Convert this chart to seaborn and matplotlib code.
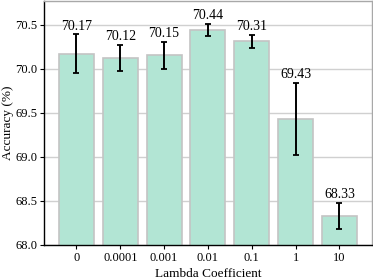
import numpy as np
import pandas as pd
import seaborn as sns
from matplotlib import pyplot as plt

lambdas = ["0", "0.0001", "0.001", "0.01", "0.1", "1", "10"]
accuracy = [70.17, 70.12, 70.15, 70.44, 70.31, 69.43, 68.33]
std_err = [0.22, 0.15, 0.15, 0.07, 0.075, 0.41, 0.15]

df = pd.DataFrame({"lambda": lambdas, "acc": accuracy, "err": std_err})

sns.set_style("whitegrid")
plt.rcParams['font.family'] = ['Liberation Serif', 'DejaVu Serif']
plt.rcParams['text.color'] = 'black'
plt.rcParams['axes.labelcolor'] = 'black'
plt.rcParams['xtick.color'] = 'black'
plt.rcParams['ytick.color'] = 'black'

fig, ax = plt.subplots(figsize=(3.73, 2.79), dpi=100)

sns.barplot(data=df, x="lambda", y="acc", color="#b2e5d4", saturation=1,
            edgecolor="#c4c4c4", linewidth=1.2, width=0.8, ax=ax, zorder=2)
ax.errorbar(np.arange(len(lambdas)), df["acc"], yerr=df["err"], fmt="none",
            ecolor="black", elinewidth=1.4, capsize=2.5, capthick=1.3, zorder=3)

for i, (v, e) in enumerate(zip(accuracy, std_err)):
    ax.text(i, v + e + 0.02, f"{v:.2f}", ha="center", va="bottom", fontsize=10)

ax.set_ylim(68.0, 70.77)
ax.set_xlim(-0.74, 6.74)
ax.set_yticks([68.0, 68.5, 69.0, 69.5, 70.0, 70.5])
ax.set_xlabel("Lambda Coefficient", fontsize=9.5, labelpad=3)
ax.set_ylabel("Accuracy (%)", fontsize=9.5, labelpad=1)
ax.tick_params(labelsize=9, length=3, pad=2)
ax.tick_params(axis="both", which="both", left=True, bottom=True, color="black")
ax.grid(axis="x", visible=False)
ax.grid(axis="y", color="#d0d0d0", linewidth=1, zorder=0)
ax.set_axisbelow(True)

for side in ["left", "bottom"]:
    ax.spines[side].set_color("black")
    ax.spines[side].set_linewidth(1)
for side in ["top", "right"]:
    ax.spines[side].set_color("#a8a8a8")
    ax.spines[side].set_linewidth(1)

fig.subplots_adjust(left=0.118, right=0.997, top=0.997, bottom=0.122)
fig.savefig("out.png", dpi=100)
